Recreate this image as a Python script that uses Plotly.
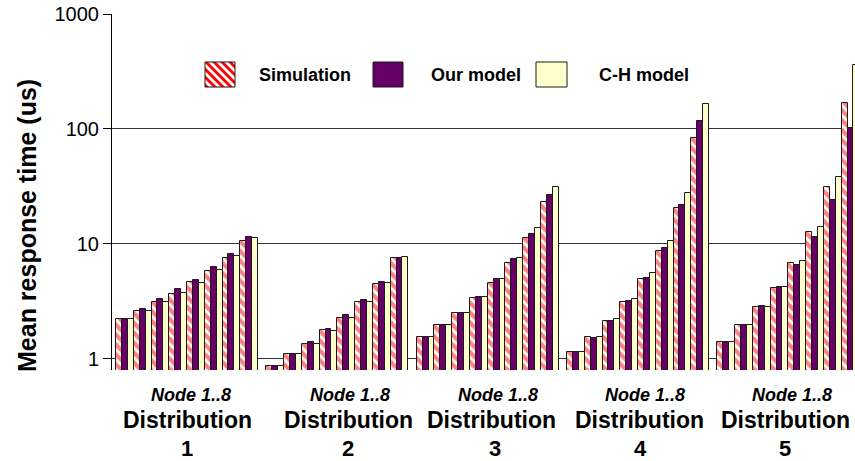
import math
import plotly.graph_objects as go

# ---------------- data ----------------
distributions = ["1", "2", "3", "4", "5"]
nodes = [1, 2, 3, 4, 5, 6, 7, 8]
series_names = ["Simulation", "Our model", "C-H model"]

simulation = [
    [2.21, 2.63, 3.11, 3.70, 4.64, 5.86, 7.51, 10.6],
    [0.875, 1.10, 1.35, 1.78, 2.27, 3.13, 4.52, 7.51],
    [1.56, 1.96, 2.53, 3.37, 4.61, 6.88, 11.2, 23.0],
    [1.14, 1.56, 2.15, 3.13, 4.93, 8.69, 20.7, 83.0],
    [1.40, 1.98, 2.81, 4.17, 6.80, 12.6, 31.5, 167],
]
our_model = [
    [2.21, 2.72, 3.32, 4.04, 4.89, 6.35, 8.24, 11.5],
    [0.875, 1.10, 1.40, 1.82, 2.40, 3.28, 4.64, 7.51],
    [1.56, 1.96, 2.53, 3.48, 4.93, 7.36, 12.2, 26.7],
    [1.14, 1.52, 2.15, 3.21, 5.06, 9.17, 21.8, 117],
    [1.40, 1.98, 2.89, 4.25, 6.56, 11.4, 24.1, 101],
]
ch_model = [
    [2.21, 2.63, 3.11, 3.77, 4.60, 5.94, 7.91, 11.2],
    [0.875, 1.10, 1.35, 1.75, 2.25, 3.10, 4.60, 7.76],
    [1.56, 1.96, 2.53, 3.48, 4.93, 7.60, 13.7, 31.5],
    [1.14, 1.56, 2.21, 3.30, 5.56, 10.6, 27.9, 165],
    [1.40, 1.98, 2.80, 4.25, 7.16, 14.1, 38.5, 360],
]
y_tick_values = [1, 10, 100, 1000]
y_tick_labels = ["1", "10", "100", "1000"]
node_label = "Node 1..8"
group_word = "Distribution"
y_title = "Mean response time (us)"

# ---------------- layout geometry ----------------
W, H = 855, 461
PL, PR, PT, PB = 112, 855, 14, 370  # plot area in px
group_pitch = 8.47  # in node-slot units

xs = []
for g in range(len(distributions)):
    for n in range(len(nodes)):
        xs.append(g * group_pitch + n)

def flat(a):
    return [v for row in a for v in row]

FONT = "Liberation Sans, Arial, sans-serif"
RED = "#FF0000"
PURPLE = "#660066"
CREAM = "#FFFFCC"
EDGE = "#1a1a1a"

fig = go.Figure()
fig.add_bar(x=xs, y=flat(simulation), name=series_names[0],
            marker=dict(color="white", line=dict(color=EDGE, width=1),
                        pattern=dict(shape="\\", fgcolor=RED, bgcolor="white",
                                     size=7, solidity=0.6, fillmode="overlay")))
fig.add_bar(x=xs, y=flat(our_model), name=series_names[1],
            marker=dict(color=PURPLE, line=dict(color=EDGE, width=1)))
fig.add_bar(x=xs, y=flat(ch_model), name=series_names[2],
            marker=dict(color=CREAM, line=dict(color=EDGE, width=1)))

slot_px = 17.75
x0_center_px = 116 + slot_px / 2
xr = [(PL - x0_center_px) / slot_px, (PR - x0_center_px) / slot_px]

def px2paper_x(px):
    return (px - PL) / (PR - PL)

def px2paper_y(py):
    return (PB - py) / (PB - PT)

# ---------------- manual legend ----------------
shapes = []
annotations = []

def clip(poly, a, b, c):
    # keep a*x + b*y <= c
    out = []
    n = len(poly)
    for i in range(n):
        p, q = poly[i], poly[(i + 1) % n]
        fp = a * p[0] + b * p[1] - c
        fq = a * q[0] + b * q[1] - c
        if fp <= 0:
            out.append(p)
        if (fp < 0 < fq) or (fq < 0 < fp):
            t = fp / (fp - fq)
            out.append((p[0] + t * (q[0] - p[0]), p[1] + t * (q[1] - p[1])))
    return out

bx0, bx1, by0, by1 = 205, 235, 62, 87
rect = [(bx0, by0), (bx1, by0), (bx1, by1), (bx0, by1)]
shapes.append(dict(type="rect", xref="paper", yref="paper",
                   x0=px2paper_x(bx0), x1=px2paper_x(bx1),
                   y0=px2paper_y(by1), y1=px2paper_y(by0),
                   fillcolor="white", line=dict(width=0)))
period, stripe = 8.0, 4.0
c = -(by1 - by0) - period
while c < (bx1 - bx0) + period:
    poly = clip(rect, 1, -1, c + stripe + bx0 - by0)
    poly = clip(poly, -1, 1, -(c + bx0 - by0))
    if len(poly) >= 3:
        path = "M " + " L ".join(f"{px2paper_x(x):.5f},{px2paper_y(y):.5f}" for x, y in poly) + " Z"
        shapes.append(dict(type="path", xref="paper", yref="paper", path=path,
                           fillcolor=RED, line=dict(width=0)))
    c += period
shapes.append(dict(type="rect", xref="paper", yref="paper",
                   x0=px2paper_x(bx0), x1=px2paper_x(bx1),
                   y0=px2paper_y(by1), y1=px2paper_y(by0),
                   fillcolor="rgba(0,0,0,0)", line=dict(color=EDGE, width=1)))

for (lx0, lx1, col) in [(373, 403, PURPLE), (536, 567, CREAM)]:
    shapes.append(dict(type="rect", xref="paper", yref="paper",
                       x0=px2paper_x(lx0), x1=px2paper_x(lx1),
                       y0=px2paper_y(by1), y1=px2paper_y(by0),
                       fillcolor=col, line=dict(color=EDGE, width=1)))

legend_text_x = [257, 429, 597]
for name, tx in zip(series_names, legend_text_x):
    annotations.append(dict(xref="paper", yref="paper", x=px2paper_x(tx),
                            y=px2paper_y(75.5), text=f"<b>{name}</b>",
                            showarrow=False, xanchor="left", yanchor="middle",
                            font=dict(family=FONT, size=18, color="black")))

# ---------------- category labels ----------------
node_cx = [191, 350, 498, 645, 792]
dist_cx = [187, 348, 491, 639, 785]
num_cx = [187, 348, 495, 640, 785]
for i, d in enumerate(distributions):
    annotations.append(dict(xref="paper", yref="paper", x=px2paper_x(node_cx[i]),
                            y=px2paper_y(394.5), text=f"<b><i>{node_label}</i></b>",
                            showarrow=False, xanchor="center", yanchor="middle",
                            font=dict(family=FONT, size=18, color="black")))
    annotations.append(dict(xref="paper", yref="paper", x=px2paper_x(dist_cx[i]),
                            y=px2paper_y(419.5), text=f"<b>{group_word}</b>",
                            showarrow=False, xanchor="center", yanchor="middle",
                            font=dict(family=FONT, size=23, color="black")))
    annotations.append(dict(xref="paper", yref="paper", x=px2paper_x(num_cx[i]),
                            y=px2paper_y(448.5), text=f"<b>{d}</b>",
                            showarrow=False, xanchor="center", yanchor="middle",
                            borderpad=0,
                            font=dict(family=FONT, size=22, color="black")))

annotations.append(dict(xref="paper", yref="paper", x=px2paper_x(27),
                        y=px2paper_y(226), text=f"<b>{y_title}</b>", textangle=-90,
                        showarrow=False, xanchor="center", yanchor="middle",
                        font=dict(family=FONT, size=25, color="black")))

fig.update_layout(
    width=W, height=H,
    margin=dict(l=PL, r=W - PR, t=PT, b=H - PB, pad=0),
    paper_bgcolor="white", plot_bgcolor="white",
    barmode="group", bargap=0, bargroupgap=0,
    showlegend=False,
    font=dict(family=FONT, color="black"),
    shapes=shapes, annotations=annotations,
    xaxis=dict(range=xr, showticklabels=False, ticks="", showgrid=False,
               zeroline=False, showline=False, fixedrange=True),
    yaxis=dict(type="log", range=[math.log10(0.8), 3],
               tickvals=y_tick_values, ticktext=y_tick_labels,
               ticks="outside", ticklen=8, tickcolor="black", tickwidth=1,
               showline=True, linecolor="black", linewidth=1,
               showgrid=True, gridcolor="#333333", gridwidth=1,
               zeroline=False, tickfont=dict(family=FONT, size=20, color="black")),
)

fig.write_html("out.html",
               config={"displayModeBar": False},
               post_script="document.body.style.margin='0px';document.body.style.padding='0px';document.body.style.overflow='hidden';")
